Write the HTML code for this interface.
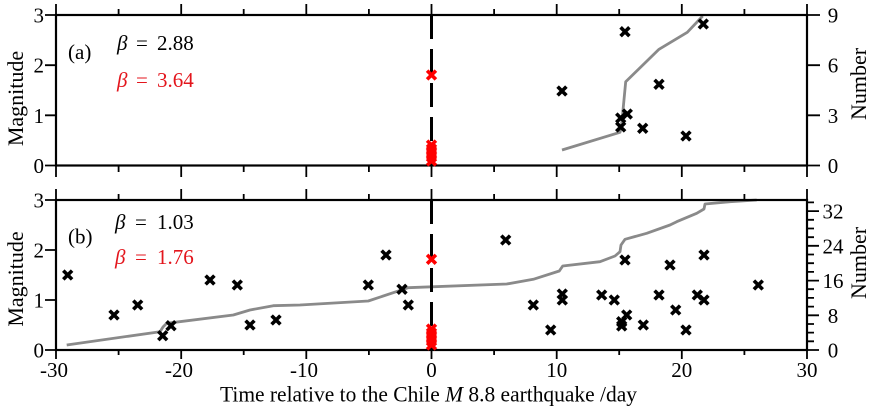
<!DOCTYPE html>
<html><head><meta charset="utf-8"><style>
html,body{margin:0;padding:0;background:#fff;}
svg{display:block;font-family:"Liberation Serif","DejaVu Serif",serif;}
svg text{font-family:"Liberation Serif","DejaVu Serif",serif;}
</style></head><body>
<svg width="871" height="410" viewBox="0 0 871 410" xmlns="http://www.w3.org/2000/svg" font-family="'Liberation Serif', 'DejaVu Serif', serif">
<defs>
<g id="xk"><path d="M-4.4,-4.4L4.4,4.4M-4.4,4.4L4.4,-4.4" stroke="#000" stroke-width="3.6"/></g>
<g id="xr"><path d="M-4.4,-4.4L4.4,4.4M-4.4,4.4L4.4,-4.4" stroke="#ff0000" stroke-width="3.6"/></g>
</defs>
<rect width="871" height="410" fill="#fff"/>

<!-- gray cumulative lines -->
<polyline fill="none" stroke="#8a8a8a" stroke-width="2.8" stroke-linejoin="round" points="562,150 620,132.3 621.5,126 625.7,81.7 659,49.3 687.3,32.3 702.7,16"/>
<polyline fill="none" stroke="#8a8a8a" stroke-width="2.8" stroke-linejoin="round" points="66.7,345 160,331.7 163,327 166.7,323.3 233.3,315 250,310 273.3,305.7 300,305 368.3,301 408.3,287.7 506.7,284 533.3,279.3 559.3,271 562.7,266 600,261.7 615,256 620,251.7 621,245 625,239.3 646.7,233.3 670,225 676.7,221.7 696.7,213.3 704,209 705,204 730,201.7 756.7,200"/>

<!-- dashed lines at t=0 -->
<line x1="431.5" y1="15" x2="431.5" y2="165.5" stroke="#000" stroke-width="3" stroke-dasharray="24 10"/>
<line x1="431.5" y1="200" x2="431.5" y2="350" stroke="#000" stroke-width="3" stroke-dasharray="24 10"/>

<!-- frames -->
<g stroke="#000" stroke-width="2.2" fill="none">
<rect x="56" y="15" width="751" height="150.5"/>
<rect x="56" y="200" width="751" height="150"/>
</g>

<!-- ticks -->
<g stroke="#000" stroke-width="1.8">
<path d="M56,15V4M181.2,15V4M306.3,15V4M431.5,15V4M556.7,15V4M681.8,15V4M807,15V4"/>
<path d="M118.6,15V9M243.7,15V9M368.9,15V9M494.1,15V9M619.2,15V9M744.4,15V9"/>
<path d="M56,165.5V177M181.2,165.5V177M306.3,165.5V177M431.5,165.5V177M556.7,165.5V177M681.8,165.5V177M807,165.5V177"/>
<path d="M118.6,165.5V172M243.7,165.5V172M368.9,165.5V172M494.1,165.5V172M619.2,165.5V172M744.4,165.5V172"/>
<path d="M56,200V189M181.2,200V189M306.3,200V189M431.5,200V189M556.7,200V189M681.8,200V189M807,200V189"/>
<path d="M118.6,200V194M243.7,200V194M368.9,200V194M494.1,200V194M619.2,200V194M744.4,200V194"/>
<path d="M56,350V359M181.2,350V359M306.3,350V359M431.5,350V359M556.7,350V359M681.8,350V359M807,350V359"/>
<path d="M118.6,350V355M243.7,350V355M368.9,350V355M494.1,350V355M619.2,350V355M744.4,350V355"/>
<path d="M45,15H56M45,65.2H56M45,115.3H56M45,165.5H56"/>
<path d="M45,200H56M45,250H56M45,300H56M45,350H56"/>
<path d="M807,15H820M807,65.2H820M807,115.3H820M807,165.5H820"/>
<path d="M807,350H819M807,315.3H819M807,280.6H819M807,245.8H819M807,211.1H819"/>
<path d="M807,341.3H814M807,332.6H814M807,324H814M807,306.6H814M807,297.9H814M807,289.2H814M807,271.9H814M807,263.2H814M807,254.5H814M807,237.2H814M807,228.5H814M807,219.8H814M807,202.4H814"/>
</g>

<!-- tick labels -->
<g font-size="21" fill="#000" font-family="'Liberation Serif', 'DejaVu Serif', serif">
<g text-anchor="end">
<text x="44" y="22.5">3</text><text x="44" y="72.7">2</text><text x="44" y="122.8">1</text><text x="44" y="173">0</text>
<text x="44" y="207.5">3</text><text x="44" y="257.5">2</text><text x="44" y="307.5">1</text><text x="44" y="357.5">0</text>
</g>
<g text-anchor="middle">
<text x="833" y="22.5">9</text><text x="833" y="72.7">6</text><text x="833" y="122.8">3</text><text x="833" y="173">0</text>
<text x="833" y="218.5">32</text><text x="833" y="253.3">24</text><text x="833" y="288">16</text><text x="833" y="322.8">8</text><text x="833" y="357.5">0</text>
<text x="54" y="377">-30</text><text x="179" y="377">-20</text><text x="304" y="377">-10</text><text x="431.5" y="377">0</text><text x="556.7" y="377">10</text><text x="681.8" y="377">20</text><text x="807" y="377">30</text>
</g>
</g>

<!-- axis titles -->
<g font-size="22" fill="#000" text-anchor="middle" font-family="'Liberation Serif', 'DejaVu Serif', serif">
<text transform="translate(23,98.5) rotate(-90)">Magnitude</text>
<text transform="translate(23,279) rotate(-90)">Magnitude</text>
<text transform="translate(866,84) rotate(-90)">Number</text>
<text transform="translate(866,263) rotate(-90)">Number</text>
</g>
<text x="220" y="401.5" font-size="22" font-family="'Liberation Serif', 'DejaVu Serif', serif" textLength="417" lengthAdjust="spacingAndGlyphs">Time relative to the Chile <tspan font-style="italic">M</tspan> 8.8 earthquake /day</text>

<!-- panel annotations -->
<g font-size="21" font-family="'Liberation Serif', 'DejaVu Serif', serif">
<text x="68" y="59">(a)</text>
<text x="117" y="50" font-style="italic">β</text><text x="136" y="50">=</text><text x="157" y="50">2.88</text>
<g fill="#e3151c"><text x="117" y="87" font-style="italic">β</text><text x="136" y="87">=</text><text x="157" y="87">3.64</text></g>
<text x="68" y="243.5">(b)</text>
<text x="115" y="229" font-style="italic">β</text><text x="135" y="229">=</text><text x="157" y="229">1.03</text>
<g fill="#e3151c"><text x="115" y="264" font-style="italic">β</text><text x="135" y="264">=</text><text x="157" y="264">1.76</text></g>
</g>

<!-- markers panel a -->
<use href="#xk" x="625" y="31.7"/><use href="#xk" x="703.3" y="24"/><use href="#xk" x="659" y="84.3"/>
<use href="#xk" x="627.3" y="114"/><use href="#xk" x="620.7" y="118"/><use href="#xk" x="620.7" y="127"/>
<use href="#xk" x="642.7" y="128.3"/><use href="#xk" x="686" y="136"/><use href="#xk" x="562" y="91"/>
<use href="#xr" x="431.5" y="75"/>
<use href="#xr" x="431.5" y="145"/><use href="#xr" x="431.5" y="149"/><use href="#xr" x="431.5" y="153"/><use href="#xr" x="431.5" y="157"/><use href="#xr" x="431.5" y="161"/>

<!-- markers panel b -->
<use href="#xk" x="67.7" y="275"/><use href="#xk" x="114" y="315"/><use href="#xk" x="137.7" y="305"/>
<use href="#xk" x="162.7" y="335.7"/><use href="#xk" x="171" y="325.7"/><use href="#xk" x="210" y="280"/>
<use href="#xk" x="237.3" y="285"/><use href="#xk" x="250" y="325"/><use href="#xk" x="276" y="320"/>
<use href="#xk" x="386" y="255"/><use href="#xk" x="368.3" y="285"/><use href="#xk" x="402" y="289.3"/>
<use href="#xk" x="408.3" y="305"/><use href="#xk" x="505.7" y="240"/><use href="#xk" x="533.3" y="305"/>
<use href="#xk" x="550.7" y="330"/><use href="#xk" x="562.3" y="294"/><use href="#xk" x="562.3" y="300"/>
<use href="#xk" x="601.7" y="295"/><use href="#xk" x="614.3" y="300"/><use href="#xk" x="625" y="260"/>
<use href="#xk" x="626.7" y="315"/><use href="#xk" x="621.7" y="321.7"/><use href="#xk" x="621.7" y="326"/>
<use href="#xk" x="643.3" y="325"/><use href="#xk" x="659" y="295"/><use href="#xk" x="670" y="265"/>
<use href="#xk" x="675.7" y="310"/><use href="#xk" x="686" y="330"/><use href="#xk" x="697.3" y="295"/>
<use href="#xk" x="704" y="300"/><use href="#xk" x="704" y="255"/><use href="#xk" x="758.3" y="285"/>
<use href="#xr" x="431.5" y="259.3"/>
<use href="#xr" x="431.5" y="329"/><use href="#xr" x="431.5" y="333"/><use href="#xr" x="431.5" y="337"/><use href="#xr" x="431.5" y="341"/><use href="#xr" x="431.5" y="345"/>
</svg>
</body></html>
